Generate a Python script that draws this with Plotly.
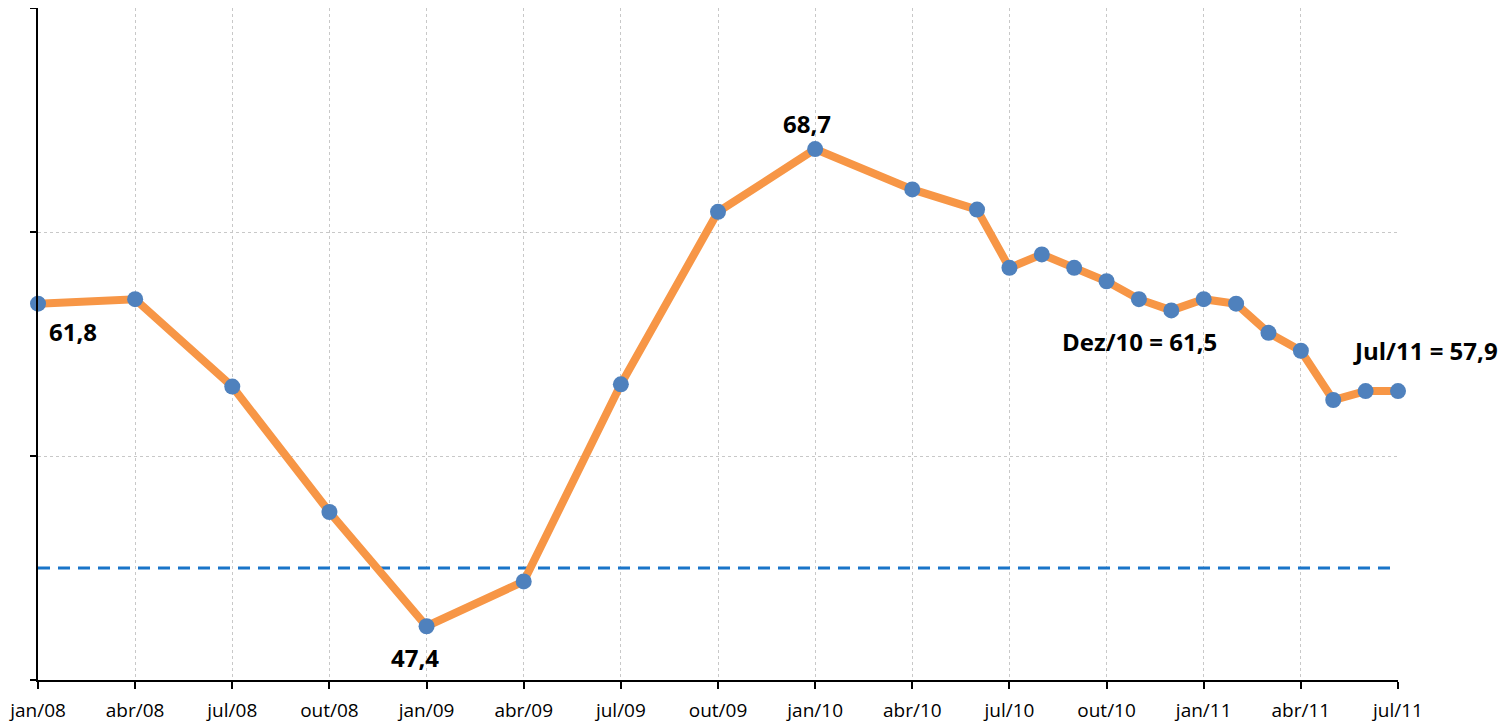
import plotly.graph_objects as go

# ---- data ----
months = ["2008-01", "2008-04", "2008-07", "2008-10", "2009-01", "2009-04",
          "2009-07", "2009-10", "2010-01", "2010-04", "2010-06", "2010-07",
          "2010-08", "2010-09", "2010-10", "2010-11", "2010-12", "2011-01",
          "2011-02", "2011-03", "2011-04", "2011-05", "2011-06", "2011-07"]
values = [61.8, 62.0, 58.1, 52.5, 47.4, 49.4, 58.2, 65.9, 68.7, 66.9, 66.0,
          63.4, 64.0, 63.4, 62.8, 62.0, 61.5, 62.0, 61.8, 60.5, 59.7, 57.5,
          57.9, 57.9]
tick_months = ["2008-01", "2008-04", "2008-07", "2008-10", "2009-01", "2009-04",
               "2009-07", "2009-10", "2010-01", "2010-04", "2010-07", "2010-10",
               "2011-01", "2011-04", "2011-07"]
tick_labels = ["jan/08", "abr/08", "jul/08", "out/08", "jan/09", "abr/09",
               "jul/09", "out/09", "jan/10", "abr/10", "jul/10", "out/10",
               "jan/11", "abr/11", "jul/11"]
reference_level = 50
y_ticks = [45, 55, 65, 75]
annotations_data = [
    ("2008-01", 61.8, "61,8"),
    ("2009-01", 47.4, "47,4"),
    ("2010-01", 68.7, "68,7"),
    ("2010-12", 61.5, "Dez/10 = 61,5"),
    ("2011-07", 57.9, "Jul/11 = 57,9"),
]


def month_index(s):
    y, m = s.split("-")
    return (int(y) - 2008) * 12 + (int(m) - 1)


x = [month_index(m) for m in months]
xt = [month_index(m) for m in tick_months]
x0, x1 = xt[0], xt[-1]

fig = go.Figure()
fig.add_trace(go.Scatter(
    x=[x0, x1], y=[reference_level, reference_level], mode="lines",
    line=dict(color="#1a75c9", width=3, dash="12px,8px"),
    hoverinfo="skip", showlegend=False))
fig.add_trace(go.Scatter(
    x=x, y=values, mode="lines+markers",
    line=dict(color="#F79646", width=8),
    marker=dict(color="#4F81BD", size=16),
    cliponaxis=False, showlegend=False))

shifts = {
    "61,8": (35, -28),
    "47,4": (-12, -31),
    "68,7": (-8, 26),
    "Dez/10 = 61,5": (-32, -31),
    "Jul/11 = 57,9": (27, 41),
}
for m, v, t in annotations_data:
    dx, dy = shifts[t]
    fig.add_annotation(x=month_index(m), y=v, text="<b>%s</b>" % t,
                       showarrow=False, xshift=dx, yshift=dy,
                       font=dict(family="Open Sans", size=24, color="black"))

# the page body adds an 8px offset, so the figure is 8px smaller
fig.update_layout(
    width=1500, height=720,
    margin=dict(l=30, r=110, t=0, b=48),
    paper_bgcolor="white", plot_bgcolor="white",
    font=dict(family="Open Sans", size=19, color="black"),
)
fig.update_xaxes(
    range=[x0, x1], tickvals=xt, ticktext=tick_labels, automargin=False,
    showline=True, linecolor="black", linewidth=2,
    ticks="outside", ticklen=7, tickwidth=2, tickcolor="black",
    showgrid=True, gridcolor="#c8c8c8", griddash="dot", gridwidth=1,
    zeroline=False, ticklabelstandoff=5)
fig.update_yaxes(
    range=[y_ticks[0], y_ticks[-1]], tickvals=y_ticks, showticklabels=False,
    automargin=False,
    showline=True, linecolor="black", linewidth=2,
    ticks="outside", ticklen=6, tickwidth=2, tickcolor="black",
    showgrid=True, gridcolor="#c8c8c8", griddash="dot", gridwidth=1,
    zeroline=False)

fig.write_html("out.html")
